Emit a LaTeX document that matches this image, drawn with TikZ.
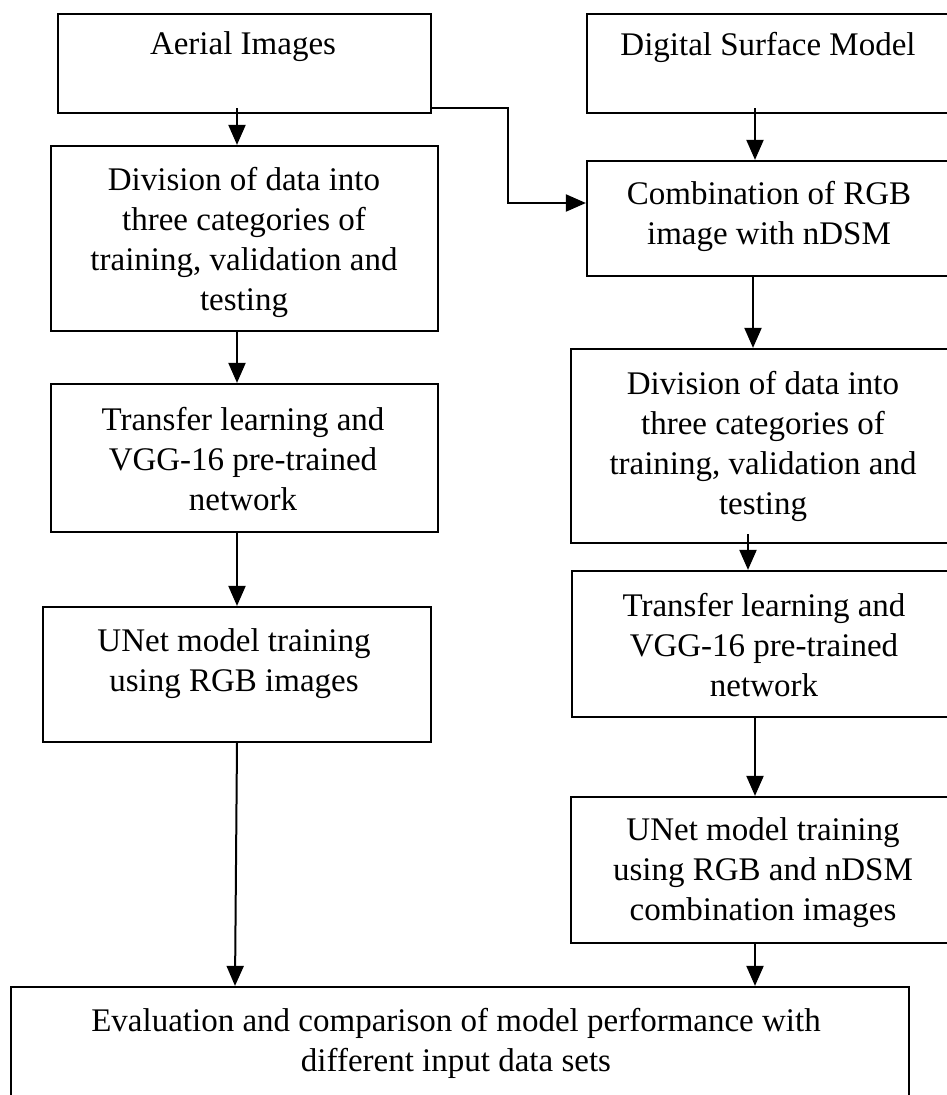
\documentclass[tikz,border=0pt]{standalone}
\usepackage{fontspec}
\setmainfont{Liberation Serif}
\usetikzlibrary{arrows.meta,calc}
\tikzset{
  box/.style={draw=black, line width=2.2pt, rectangle, inner sep=0pt, fill=white},
  txt/.style={align=center, inner sep=0pt, font=\fontsize{33}{40}\selectfont},
  arr/.style={draw=black, line width=2pt, -{Triangle[length=20pt,width=17pt]}},
}
\begin{document}
\begin{tikzpicture}[x=1pt,y=-1pt]
\useasboundingbox (0,0) rectangle (947,1095);
\clip (0,0) rectangle (947,1095);
\fill[white] (0,0) rectangle (947,1095);
% boxes
\node[box, minimum width=373pt, minimum height=99pt]  (aer)  at (244.5,63.5) {};
\node[box, minimum width=364pt, minimum height=99pt]  (dsm)  at (769,63.5) {};
\node[box, minimum width=387pt, minimum height=185pt] (divl) at (244.5,238.5) {};
\node[box, minimum width=364pt, minimum height=115pt] (comb) at (769,218.5) {};
\node[box, minimum width=387pt, minimum height=148pt] (trl)  at (244.5,458) {};
\node[box, minimum width=384pt, minimum height=194pt] (divr) at (763,446) {};
\node[box, minimum width=388pt, minimum height=135pt] (unl)  at (237,674.5) {};
\node[box, minimum width=385pt, minimum height=146pt] (trr)  at (764.5,644) {};
\node[box, minimum width=384pt, minimum height=146pt] (unr)  at (763,870) {};
\node[box, minimum width=898pt, minimum height=123pt] (eval) at (460,1048.5) {};
% texts
\node[txt] (taer)  at (243,47)    {Aerial Images};
\node[txt] (tdsm)  at (768,47)    {Digital Surface Model};
\node[txt] (tdivl) at (244,242.5) {Division of data into\\three categories of\\training, validation and\\testing};
\node[txt] (tcomb) at (769,216)   {Combination of RGB\\image with nDSM};
\node[txt] (ttrl)  at (243,459)   {Transfer learning and\\VGG-16 pre-trained\\network};
\node[txt] (tdivr) at (763,446.5) {Division of data into\\three categories of\\training, validation and\\testing};
\node[txt] (tunl)  at (234,664)   {UNet model training\\using RGB images};
\node[txt] (ttrr)  at (764,645)   {Transfer learning and\\VGG-16 pre-trained\\network};
\node[txt] (tunr)  at (763,872.5) {UNet model training\\using RGB and nDSM\\combination images};
\node[txt] (teval) at (456,1043)  {Evaluation and comparison of model performance with\\different input data sets};
% connectors
\draw[arr] ($(aer.south -| 237,0)+(0,-6)$) -- (divl.north -| 237,0);
\draw[arr] ($(dsm.south -| 755,0)+(0,-6)$) -- (comb.north -| 755,0);
\draw[arr] (aer.east |- 0,108) -- (508,108) -- (508,203) -- (comb.west |- 0,203);
\draw[arr] (comb.south -| 753,0) -- (divr.north -| 753,0);
\draw[arr] (divl.south -| 237,0) -- (trl.north -| 237,0);
\draw[arr] ($(divr.south -| 748,0)+(0,-10)$) -- (trr.north -| 748,0);
\draw[arr] (trl.south -| 237,0) -- (unl.north -| 237,0);
\draw[arr] (trr.south -| 755,0) -- (unr.north -| 755,0);
\draw[arr] (unl.south -| 237,0) -- (eval.north -| 235,0);
\draw[arr] (unr.south -| 755,0) -- (eval.north -| 755,0);
\end{tikzpicture}
\end{document}
